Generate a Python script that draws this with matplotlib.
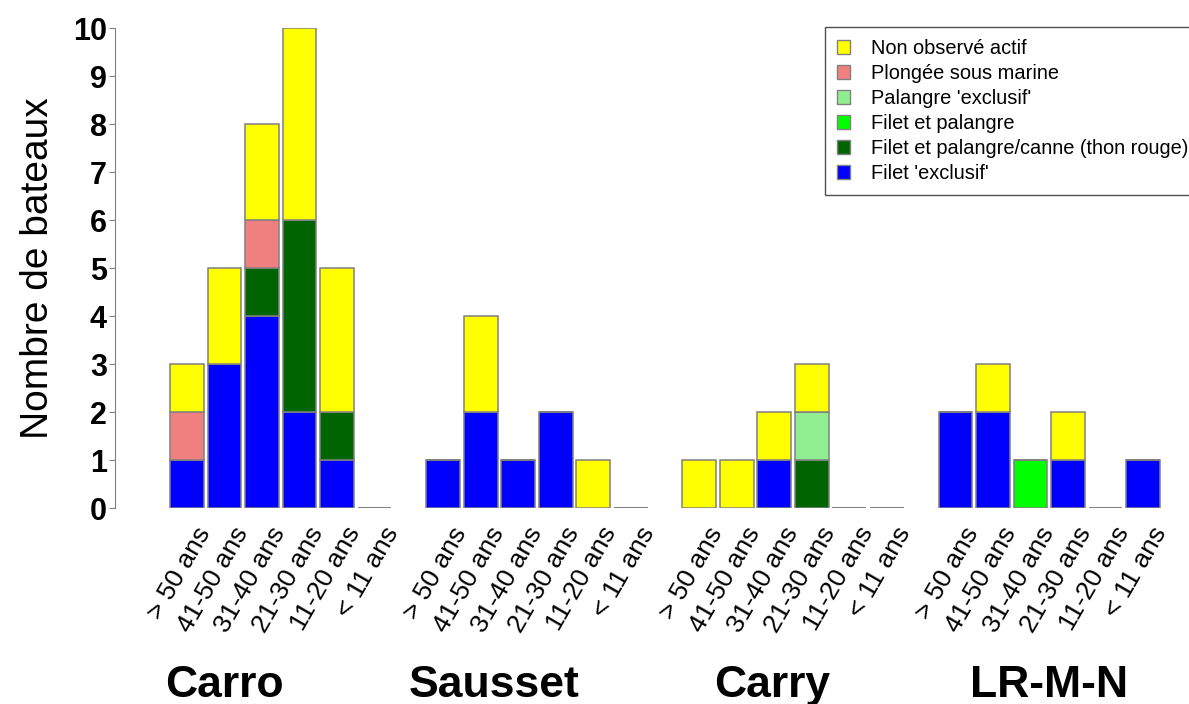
import matplotlib
matplotlib.use("Agg")
import matplotlib.pyplot as plt
import numpy as np
from matplotlib.patches import Patch

plt.rcParams["font.family"] = ["Liberation Sans", "DejaVu Sans"]

# ---------------------------------------------------------------------------
# Data
# ---------------------------------------------------------------------------
ports = ["Carro", "Sausset", "Carry", "LR-M-N"]
age_classes = ["> 50 ans", "41-50 ans", "31-40 ans", "21-30 ans", "11-20 ans", "< 11 ans"]

# stacking order, bottom to top
categories = [
    "Filet 'exclusif'",
    "Filet et palangre/canne (thon rouge)",
    "Filet et palangre",
    "Palangre 'exclusif'",
    "Plongée sous marine",
    "Non observé actif",
]
colors = ["#0000FF", "#006400", "#00FF00", "#90EE90", "#F08080", "#FFFF00"]

# one row per port, one column per age class
filet_exclusif = [
    [1, 3, 4, 2, 1, 0],
    [1, 2, 1, 2, 0, 0],
    [0, 0, 1, 0, 0, 0],
    [2, 2, 0, 1, 0, 1],
]
filet_palangre_canne = [
    [0, 0, 1, 4, 1, 0],
    [0, 0, 0, 0, 0, 0],
    [0, 0, 0, 1, 0, 0],
    [0, 0, 0, 0, 0, 0],
]
filet_palangre = [
    [0, 0, 0, 0, 0, 0],
    [0, 0, 0, 0, 0, 0],
    [0, 0, 0, 0, 0, 0],
    [0, 0, 1, 0, 0, 0],
]
palangre_exclusif = [
    [0, 0, 0, 0, 0, 0],
    [0, 0, 0, 0, 0, 0],
    [0, 0, 0, 1, 0, 0],
    [0, 0, 0, 0, 0, 0],
]
plongee = [
    [1, 0, 1, 0, 0, 0],
    [0, 0, 0, 0, 0, 0],
    [0, 0, 0, 0, 0, 0],
    [0, 0, 0, 0, 0, 0],
]
non_observe = [
    [1, 2, 2, 4, 3, 0],
    [0, 2, 0, 0, 1, 0],
    [1, 1, 1, 1, 0, 0],
    [0, 1, 0, 1, 0, 0],
]
series = [filet_exclusif, filet_palangre_canne, filet_palangre,
          palangre_exclusif, plongee, non_observe]

# ---------------------------------------------------------------------------
# Layout
# ---------------------------------------------------------------------------
group_step = 6.83
bar_width = 0.9
port_label_offset = [1.0, 1.35, 1.95, 2.5]

fig = plt.figure(figsize=(11.89, 7.04), dpi=100)
ax = fig.add_axes([118 / 1189, 196 / 704, 1062 / 1189, 480 / 704])

edge = "#808080"
for g, port in enumerate(ports):
    x = g * group_step + np.arange(len(age_classes))
    bottom = np.zeros(len(age_classes))
    for vals, col in zip(series, colors):
        h = np.array(vals[g], dtype=float)
        ax.bar(x, h, bottom=bottom, width=bar_width, color=col,
               edgecolor=edge, linewidth=1.1)
        bottom += h
    for xi, lab in zip(x, age_classes):
        ax.annotate(lab, xy=(xi, 0), xycoords=("data", "data"),
                    xytext=(13, -15), textcoords="offset points",
                    rotation=60, rotation_mode="anchor",
                    ha="right", va="center", fontsize=19)
    ax.annotate(port, xy=(g * group_step + port_label_offset[g], 0),
                xytext=(0, -128), textcoords="offset points",
                ha="center", va="center", fontsize=32, fontweight="bold")

ax.set_xlim(-1.84, 26.48)
ax.set_ylim(0, 10)
ax.set_yticks(range(0, 11))
ax.set_xticks([])
for s in ["top", "right", "bottom"]:
    ax.spines[s].set_visible(False)
ax.spines["left"].set_color(edge)
ax.spines["left"].set_position(("outward", 2))
ax.tick_params(axis="y", colors=edge, labelcolor="black", length=4,
               labelsize=22, pad=2)
for t in ax.get_yticklabels():
    t.set_fontweight("bold")
ax.set_ylabel("Nombre de bateaux", fontsize=28, labelpad=12)

handles = [Patch(facecolor=c, edgecolor=edge, label=l)
           for c, l in zip(colors[::-1], categories[::-1])]
leg = fig.legend(handles=handles, loc="upper left",
                 bbox_to_anchor=(825 / 1189, 1 - 27 / 704),
                 bbox_transform=fig.transFigure, fontsize=14.4, fancybox=False,
                 edgecolor="#505050", framealpha=1, handlelength=0.65,
                 handleheight=0.65, handletextpad=1.05, labelspacing=0.3,
                 borderpad=0.6, borderaxespad=0)
leg.get_frame().set_linewidth(1.0)

fig.savefig("out.png", dpi=100)
